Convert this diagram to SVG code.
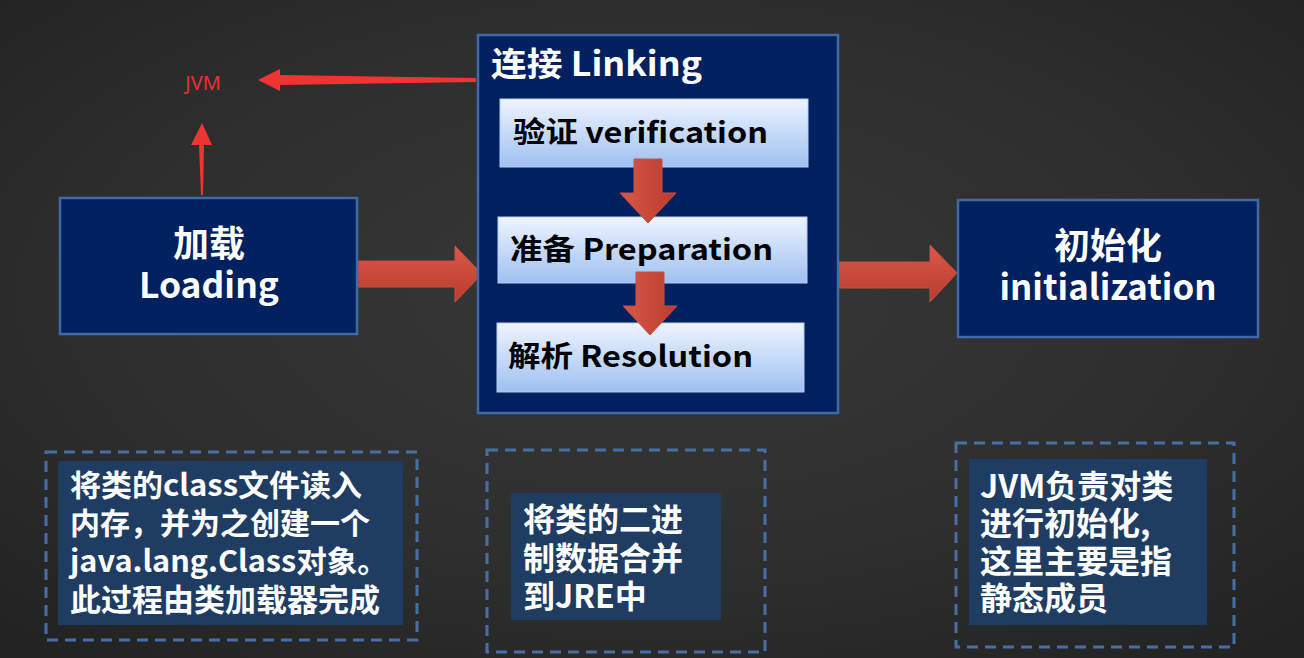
<svg xmlns="http://www.w3.org/2000/svg" width="1304" height="658" viewBox="0 0 1304 658">
<defs>
<radialGradient id="bg" cx="50%" cy="45%" r="70%">
<stop offset="0" stop-color="#383838"/>
<stop offset="0.6" stop-color="#2e2e2e"/>
<stop offset="1" stop-color="#232323"/>
</radialGradient>
<linearGradient id="sub" x1="0" y1="0" x2="0" y2="1">
<stop offset="0" stop-color="#eef4ff"/>
<stop offset="1" stop-color="#9fc0f2"/>
</linearGradient>
<linearGradient id="arrH" x1="0" y1="0" x2="0" y2="1">
<stop offset="0" stop-color="#d9584a"/>
<stop offset="1" stop-color="#b83c2c"/>
</linearGradient>
<linearGradient id="arrV" x1="0" y1="0" x2="1" y2="0">
<stop offset="0" stop-color="#d9584a"/>
<stop offset="1" stop-color="#b83c2c"/>
</linearGradient>
<style>
.main{fill:#002060;stroke:#3f6aa6;stroke-width:2.5}
.subbox{fill:url(#sub);stroke:#b8cff0;stroke-width:1}
.note{fill:#1f3d63}
.dash{fill:none;stroke:#4670a5;stroke-width:3;stroke-dasharray:11 7}
.t{font-family:"Noto Sans CJK SC","Noto Sans",sans-serif;font-weight:bold}
.w{fill:#ffffff}
.k{fill:#000000}
.big{fill:url(#arrH);stroke:#c9503e;stroke-width:1}
.bigv{fill:url(#arrV);stroke:#c9503e;stroke-width:1}
.red{fill:#f03434}
</style>
</defs>
<rect width="1304" height="658" fill="url(#bg)"/>

<g id="connectors">
<path class="big" d="M357 261 H455 V246 L482 274 L455 302 V287 H357 Z"/>
<path class="big" d="M838 262 H930 V245 L957 273 L930 302 V288 H838 Z"/>
<path class="red" d="M476 78 L280 75 L280 69 L258 80 L280 91 L280 85 L476 82 Z"/>
<path class="red" d="M201 195 L199 145 L191 145 L202 123 L212 145 L204 145 L203 195 Z"/>
</g>

<g id="loading">
<rect class="main" x="60" y="198" width="297" height="136"/>
<text class="t w" x="209" y="257" font-size="36" text-anchor="middle">加载</text>
<text class="t w" x="209" y="298" font-size="35" text-anchor="middle" textLength="140" lengthAdjust="spacingAndGlyphs">Loading</text>
</g>

<g id="jvm">
<text x="203" y="90" font-family="'Noto Sans','Liberation Sans',sans-serif" font-size="20" fill="#ee3030" text-anchor="middle">JVM</text>
</g>

<g id="linking">
<rect class="main" x="478" y="35" width="360" height="378"/>
<text class="t w" x="491" y="76" font-size="33" textLength="211" lengthAdjust="spacingAndGlyphs">连接 Linking</text>
</g>

<g id="verification">
<rect class="subbox" x="500" y="99" width="308" height="68"/>
<text class="t k" x="513" y="143" font-size="29" textLength="255" lengthAdjust="spacingAndGlyphs">验证 verification</text>
</g>

<g id="preparation">
<rect class="subbox" x="498" y="217" width="309" height="66"/>
<text class="t k" x="510" y="260" font-size="29" textLength="263" lengthAdjust="spacingAndGlyphs">准备 Preparation</text>
</g>

<g id="resolution">
<rect class="subbox" x="497" y="323" width="307" height="69"/>
<text class="t k" x="508" y="367" font-size="29" textLength="245" lengthAdjust="spacingAndGlyphs">解析 Resolution</text>
</g>

<g id="inner-arrows">
<path class="bigv" d="M634 159 H662 V193 H676 L648 223 L620 193 H634 Z"/>
<path class="bigv" d="M636 272 H664 V306 H677 L650 335 L623 306 H636 Z"/>
</g>

<g id="initialization">
<rect class="main" x="958" y="200" width="300" height="137"/>
<text class="t w" x="1108" y="259" font-size="36" text-anchor="middle">初始化</text>
<text class="t w" x="1108" y="300" font-size="35" text-anchor="middle" textLength="217" lengthAdjust="spacingAndGlyphs">initialization</text>
</g>

<g id="note-loading">
<rect class="dash" x="46" y="452" width="371" height="188"/>
<rect class="note" x="58" y="461" width="345" height="164"/>
<text class="t w" x="70" y="496" font-size="30" textLength="292" lengthAdjust="spacingAndGlyphs">将类的class文件读入</text>
<text class="t w" x="70" y="534" font-size="30">内存，并为之创建一个</text>
<text class="t w" x="70" y="572" font-size="30" textLength="318" lengthAdjust="spacingAndGlyphs">java.lang.Class对象。</text>
<text class="t w" x="70" y="611" font-size="31">此过程由类加载器完成</text>
</g>

<g id="note-linking">
<rect class="dash" x="487" y="450" width="278" height="202"/>
<rect class="note" x="511" y="493" width="210" height="127"/>
<text class="t w" x="523" y="531" font-size="32">将类的二进</text>
<text class="t w" x="523" y="570" font-size="32">制数据合并</text>
<text class="t w" x="523" y="608" font-size="32">到JRE中</text>
</g>

<g id="note-init">
<rect class="dash" x="956" y="443" width="278" height="204"/>
<rect class="note" x="969" y="459" width="238" height="166"/>
<text class="t w" x="980" y="498" font-size="32">JVM负责对类</text>
<text class="t w" x="980" y="535" font-size="32">进行初始化,</text>
<text class="t w" x="980" y="573" font-size="32">这里主要是指</text>
<text class="t w" x="980" y="610" font-size="32">静态成员</text>
</g>
</svg>
